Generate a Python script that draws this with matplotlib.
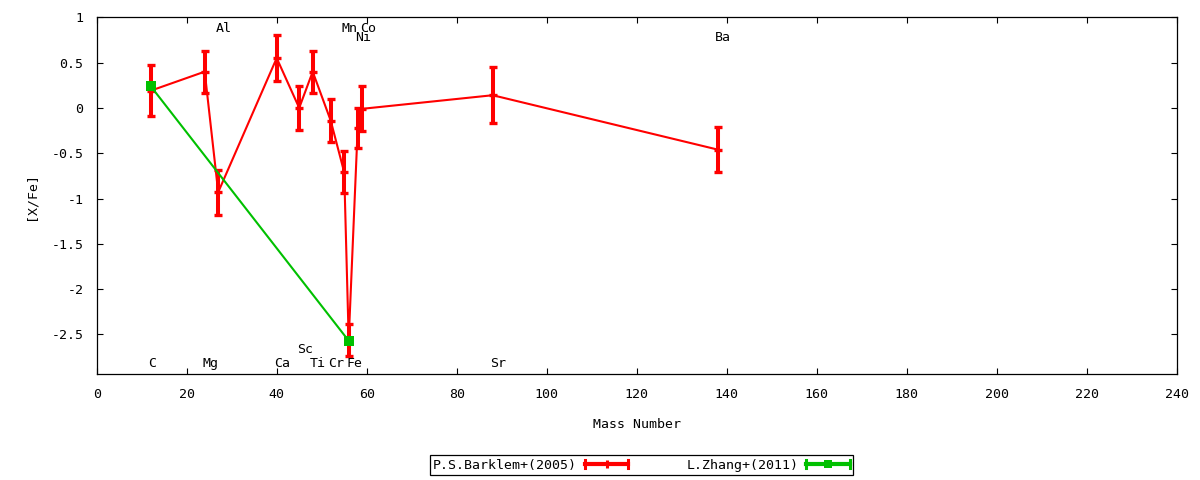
import matplotlib
matplotlib.use("Agg")
import matplotlib.pyplot as plt
from matplotlib.lines import Line2D
from matplotlib.legend_handler import HandlerBase

# ---- data ----
barklem_mass = [12, 24, 27, 40, 45, 48, 52, 55, 56, 58, 59, 88, 138]
barklem_xfe = [0.19, 0.40, -0.93, 0.55, 0.00, 0.40, -0.14, -0.71, -2.56, -0.22, -0.01, 0.14, -0.46]
barklem_err = [0.28, 0.23, 0.25, 0.25, 0.24, 0.23, 0.24, 0.23, 0.18, 0.22, 0.25, 0.31, 0.25]

zhang_mass = [12, 56]
zhang_xfe = [0.24, -2.57]
zhang_err = [0.0, 0.0]

elem_names = ["C", "Mg", "Al", "Ca", "Sc", "Ti", "Cr", "Mn", "Fe", "Co", "Ni", "Sr", "Ba"]
elem_mass = [12, 24, 27, 40, 45, 48, 52, 55, 56, 59, 58, 88, 138]
elem_label_y = [-2.82, -2.82, 0.88, -2.82, -2.67, -2.82, -2.82, 0.88, -2.82, 0.88, 0.78, -2.82, 0.78]

x_ticks = [0, 20, 40, 60, 80, 100, 120, 140, 160, 180, 200, 220, 240]
y_ticks = [1, 0.5, 0, -0.5, -1, -1.5, -2, -2.5]
y_tick_labels = ["1", "0.5", "0", "-0.5", "-1", "-1.5", "-2", "-2.5"]

RED = "#ff0000"
GREEN = "#00c000"
FONT = "DejaVu Sans Mono"
FS = 9.5

plt.rcParams["font.family"] = FONT
plt.rcParams["font.size"] = FS

fig = plt.figure(figsize=(12, 4.8), dpi=100)
ax = fig.add_axes([96.7 / 1200, 1 - 374.3 / 480, 1080 / 1200, 357 / 480])

ax.errorbar(barklem_mass, barklem_xfe, yerr=barklem_err, color=RED, lw=1.5,
            elinewidth=2.9, capsize=2.9, capthick=2.4, marker="_", ms=5.8, mew=2.4,
            zorder=3)
ax.errorbar(zhang_mass, zhang_xfe, yerr=zhang_err, color=GREEN, lw=1.5,
            elinewidth=2.9, capsize=2.9, capthick=2.4, marker="s", ms=7, mew=0,
            zorder=4)

for name, m, yv in zip(elem_names, elem_mass, elem_label_y):
    ax.text(m - 0.55, yv, name, ha="left", va="center", fontsize=FS, color="black", zorder=5)

ax.set_xlim(0, 240)
ax.set_ylim(-2.94, 1)
ax.set_xticks(x_ticks)
ax.set_xticklabels([str(t) for t in x_ticks])
ax.set_yticks(y_ticks)
ax.set_yticklabels(y_tick_labels)
ax.tick_params(direction="in", length=4, width=0.8, top=True, right=True,
               labelsize=FS, colors="black")
ax.tick_params(axis="x", pad=10)
ax.tick_params(axis="y", pad=9.5)
for s in ax.spines.values():
    s.set_linewidth(0.9)

fig.text(31 / 1200, 1 - 196 / 480, "[X/Fe]", rotation=90, ha="center", va="center", fontsize=FS)
fig.text(636.7 / 1200, 1 - 425 / 480, "Mass Number", ha="center", va="center", fontsize=FS)


class ErrSample(HandlerBase):
    def __init__(self, color, marker, ms, mew):
        super().__init__()
        self.color = color
        self.marker = marker
        self.ms = ms
        self.mew = mew

    def create_artists(self, legend, orig_handle, xdescent, ydescent, width, height,
                       fontsize, trans):
        y = height / 2 - ydescent
        x0 = -xdescent
        x1 = width - xdescent
        h = 3.0
        arts = [
            Line2D([x0, x1], [y, y], color=self.color, lw=3),
            Line2D([x0, x0], [y - h, y + h], color=self.color, lw=2.2),
            Line2D([x1, x1], [y - h, y + h], color=self.color, lw=2.2),
            Line2D([(x0 + x1) / 2], [y], color=self.color, marker=self.marker,
                   ms=self.ms, mew=self.mew, lw=0),
        ]
        for a in arts:
            a.set_transform(trans)
        return arts


h_red = Line2D([], [], color=RED)
h_green = Line2D([], [], color=GREEN)
leg = fig.legend([h_red, h_green], ["P.S.Barklem+(2005)", "L.Zhang+(2011)"],
                 loc="center", bbox_to_anchor=(641.5 / 1200, 1 - 465 / 480),
                 ncol=2, markerfirst=False, fancybox=False, framealpha=1,
                 edgecolor="black", handlelength=3.3, handletextpad=0.6,
                 columnspacing=4.4, borderpad=0.25, borderaxespad=0,
                 handler_map={h_red: ErrSample(RED, "|", 5.8, 2.2),
                              h_green: ErrSample(GREEN, "s", 6, 0)},
                 fontsize=FS)
leg.get_frame().set_linewidth(0.9)

fig.savefig("out.png", dpi=100)
